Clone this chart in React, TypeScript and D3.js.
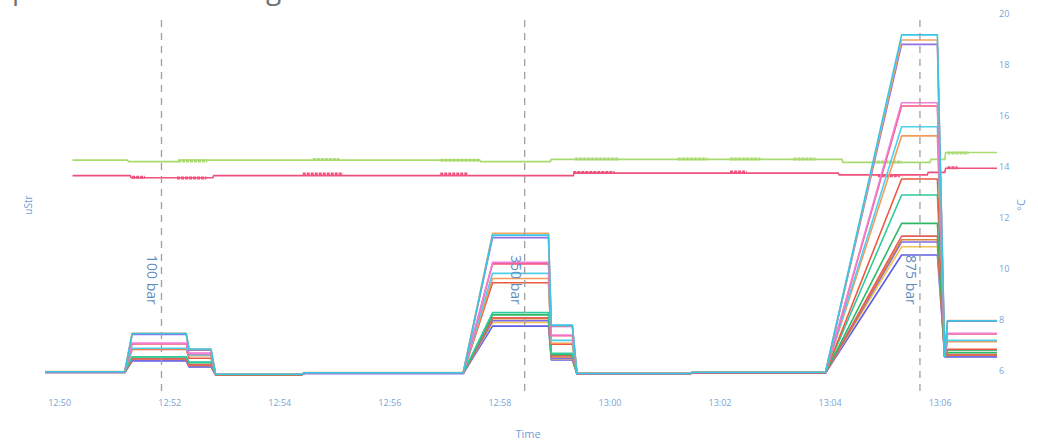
import React from "react";
import * as d3 from "d3";

// ---------- DATA ----------
// strain segments (flat levels); consecutive segments are joined by straight ramps
const segmentStarts = ["12:49:44", "12:51:19", "12:52:21", "12:52:50", "12:54:27", "12:57:52", "12:58:56", "12:59:24", "13:01:30", "13:05:18", "13:06:05", "13:06:08"];
const segmentEnds   = ["12:51:11", "12:52:18", "12:52:45", "12:54:24", "12:57:20", "12:58:53", "12:59:19", "13:01:27", "13:03:55", "13:05:57", "13:06:05", "13:07:02"];

const strainNames = ["SG1", "SG2", "SG3", "SG4", "SG5", "SG6", "SG7", "SG8", "SG9", "SG10", "SG11", "SG12", "SG13", "SG14", "SG15"];
const strainColors = ["#5d5de5", "#f1c450", "#7d6be6", "#d9823e", "#e4605c", "#2fb865", "#2ecb9c", "#ea5a40", "#f59a58", "#4fcfe9", "#f2557e", "#f27fd6", "#8f6fe3", "#f3a55e", "#38c6e6"];
// uStr levels per segment
const sg1  = [4, 49, 26, -5, 0, 186, 53, -2, 2, 465, 65, 65];
const sg2  = [5, 55, 30, -4, 1, 200, 58, -1, 3, 497, 65, 70];
const sg3  = [4, 52, 28, -5, 0, 207, 60, -2, 2, 516, 65, 68];
const sg4  = [4, 57, 32, -5, 1, 215, 65, -2, 3, 525, 65, 72];
const sg5  = [5, 58, 35, -4, 1, 219, 70, -1, 3, 539, 65, 75];
const sg6  = [5, 65, 43, -4, 2, 230, 75, -1, 4, 589, 65, 82];
const sg7  = [6, 66, 45, -3, 3, 239, 79, 0, 5, 700, 65, 92];
const sg8  = [5, 95, 60, -4, 2, 356, 115, -1, 4, 763, 65, 95];
const sg9  = [6, 97, 70, -3, 2, 373, 119, 0, 4, 932, 65, 125];
const sg10 = [7, 99, 73, -2, 3, 393, 130, 1, 5, 968, 65, 130];
const sg11 = [6, 116, 78, -3, 2, 430, 148, 0, 4, 1049, 65, 155];
const sg12 = [7, 120, 80, -2, 3, 436, 151, 0, 5, 1062, 65, 158];
const sg13 = [6, 153, 92, -3, 2, 533, 185, 0, 4, 1291, 65, 205];
const sg14 = [8, 158, 95, -2, 4, 550, 188, 1, 6, 1308, 65, 208];
const sg15 = [7, 157, 96, -3, 3, 543, 190, 0, 5, 1328, 65, 207];
const strainLevels = [sg1, sg2, sg3, sg4, sg5, sg6, sg7, sg8, sg9, sg10, sg11, sg12, sg13, sg14, sg15];

// temperatures (°C)
const tempGreenTimes  = ["12:50:14", "12:51:14", "12:51:15", "12:52:09", "12:52:10", "12:57:38", "12:57:39", "12:58:55", "12:58:56", "13:04:13", "13:04:14", "13:05:49", "13:05:50", "13:06:05", "13:06:06", "13:07:02"];
const tempGreenValues = [14.27, 14.27, 14.21, 14.21, 14.27, 14.27, 14.21, 14.21, 14.30, 14.30, 14.18, 14.18, 14.30, 14.30, 14.57, 14.57];
const tempPinkTimes  = ["12:50:14", "12:51:17", "12:51:18", "12:52:47", "12:52:48", "12:59:20", "12:59:21", "13:04:09", "13:04:10", "13:05:46", "13:05:47", "13:06:05", "13:06:06", "13:07:02"];
const tempPinkValues = [13.66, 13.66, 13.58, 13.58, 13.66, 13.66, 13.76, 13.76, 13.69, 13.69, 13.79, 13.79, 13.95, 13.95];
// noisy bursts [start, end, value]
const greenBursts: [string, string, number][] = [["12:52:09", "12:52:41", 14.24], ["12:54:36", "12:55:05", 14.29], ["12:56:55", "12:57:38", 14.26], ["12:59:22", "13:00:09", 14.31], ["13:01:14", "13:01:46", 14.31], ["13:02:11", "13:02:44", 14.31], ["13:03:20", "13:03:44", 14.31], ["13:04:47", "13:05:18", 14.2], ["13:06:08", "13:06:31", 14.55]];
const pinkBursts: [string, string, number][] = [["12:51:19", "12:51:33", 13.6], ["12:52:08", "12:52:40", 13.57], ["12:54:25", "12:55:09", 13.73], ["12:56:55", "12:57:25", 13.73], ["12:59:20", "13:00:05", 13.78], ["13:02:11", "13:02:29", 13.8], ["13:04:52", "13:05:16", 13.66], ["13:06:08", "13:06:19", 13.97]];

const markerTimes = ["12:51:51", "12:58:27", "13:05:38"];
const markerLabels = ["100 bar", "350 bar", "875 bar"];
const rightTicks = [6, 8, 10, 12, 14, 16, 18, 20];

// ---------- CHART ----------
const W = 1038, H = 441;
const FONT = "'Open Sans', sans-serif";
const parseT = (s: string) => {
  const [h, m, sec] = s.split(":").map(Number);
  return new Date(2020, 0, 1, h, m, sec);
};

export default function App() {
  const x = d3.scaleTime().domain([parseT("12:49:44"), parseT("13:07:02")]).range([45, 997]);
  const yR = d3.scaleLinear().domain([6, 20]).range([371, 14]);
  const yL = d3.scaleLinear().domain([0, 1410]).range([yR(5.9), yR(20)]);
  const line = d3.line<[Date, number]>().x(d => x(d[0])).y(d => d[1]);

  const strainPaths = strainLevels.map(lv => {
    const pts: [Date, number][] = [];
    lv.forEach((v, i) => {
      pts.push([parseT(segmentStarts[i]), yL(v)]);
      pts.push([parseT(segmentEnds[i]), yL(v)]);
    });
    return line(pts) || "";
  });
  const tempPath = (ts: string[], vs: number[]) => line(ts.map((t, i) => [parseT(t), yR(vs[i])] as [Date, number])) || "";
  const xticks = x.ticks(d3.timeMinute.every(2) as any);
  const fmt = d3.timeFormat("%H:%M");

  return (
    <svg width={W} height={H} style={{ position: "absolute", left: 0, top: 0, display: "block", background: "#fff" }} fontFamily={FONT}>
      <text x={12} y={-1} fontSize={28} fill="#707070">pressure cell loading</text>
      {/* x ticks */}
      {xticks.map((t, i) => (
        <text key={i} x={x(t)} y={406} fontSize={9} fill="#7aa3d6" textAnchor="middle">{fmt(t)}</text>
      ))}
      <text x={528} y={438} fontSize={11} fill="#6f9ed6" textAnchor="middle">Time</text>
      {/* right ticks */}
      {rightTicks.map(v => (
        <text key={v} x={999} y={yR(v) + 3} fontSize={9} fill="#7aa3d6">{v}</text>
      ))}
      <text transform={`translate(1025,205) rotate(-90)`} fontSize={11} fill="#6f9ed6" textAnchor="middle">°C</text>
      <text transform={`translate(32,205) rotate(-90)`} fontSize={10} fill="#6f9ed6" textAnchor="middle">uStr</text>
      {/* temperatures */}
      <path d={tempPath(tempGreenTimes, tempGreenValues)} fill="none" stroke="#a9da6f" strokeWidth={1.6} />
      <path d={tempPath(tempPinkTimes, tempPinkValues)} fill="none" stroke="#f0507c" strokeWidth={1.6} />
      {greenBursts.map((b, i) => (
        <line key={"g" + i} x1={x(parseT(b[0]))} x2={x(parseT(b[1]))} y1={yR(b[2])} y2={yR(b[2])} stroke="#a9da6f" strokeWidth={3} strokeDasharray="3,1" />
      ))}
      {pinkBursts.map((b, i) => (
        <line key={"p" + i} x1={x(parseT(b[0]))} x2={x(parseT(b[1]))} y1={yR(b[2])} y2={yR(b[2])} stroke="#f0507c" strokeWidth={3} strokeDasharray="3,1" />
      ))}
      {/* strain */}
      {strainPaths.map((d, i) => (
        <path key={strainNames[i]} d={d} fill="none" stroke={strainColors[i]} strokeWidth={1.6} strokeLinejoin="round" />
      ))}
      {/* markers */}
      {markerTimes.map((t, i) => {
        const mx = x(parseT(t));
        return (
          <g key={t}>
            <line x1={mx} x2={mx} y1={20} y2={396} stroke="#a0a0a0" strokeWidth={1.3} strokeDasharray="7,6" />
            <text transform={`translate(${mx - 14},255) rotate(90)`} fontSize={14} fill="#5f8dc0">{markerLabels[i]}</text>
          </g>
        );
      })}
    </svg>
  );
}
